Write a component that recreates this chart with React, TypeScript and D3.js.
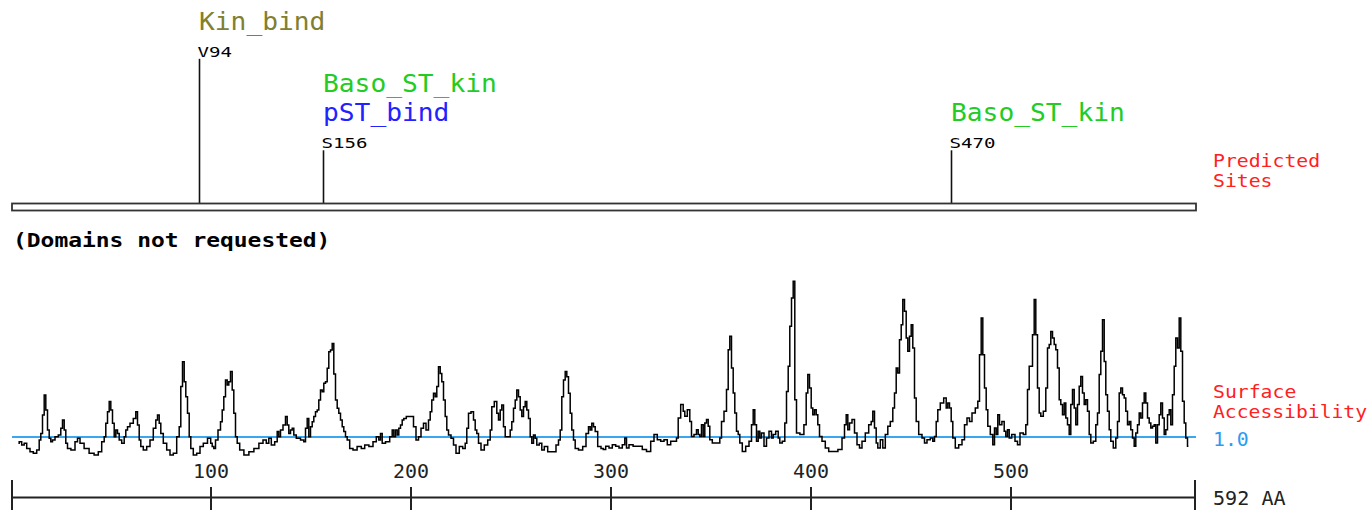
import React from "react";
import * as d3 from "d3";

const proteinLength = 592;
const axisTicks = [100, 200, 300, 400, 500];
const siteResidues = [94, 156, 470];
const siteLabels = ["V94", "S156", "S470"];
const siteMotifs = [["Kin_bind"], ["Baso_ST_kin", "pST_bind"], ["Baso_ST_kin"]];
const motifColors: Record<string, string> = {
  Kin_bind: "#808030",
  Baso_ST_kin: "#22cc22",
  pST_bind: "#2222ff",
};
const baselineValue = 1.0;

// surface accessibility profile: [residue, value]
const accResidues = [
  3.7, 4.5, 6.2, 7, 8.7, 10.3, 12, 13.7, 14.5, 15.3, 16.2, 17, 17.8, 18.7, 19.5, 20.3, 21.2, 22.8, 24.5, 25.3, 26.2, 27, 27.8, 28.7, 31.2, 32.8, 33.7, 35.3, 37.8, 40.3, 42.8, 44.5, 46.2, 47, 47.8, 48.7, 49.5, 50.3, 51.2, 52, 52.8, 53.7, 54.5, 56.2, 57, 57.8, 58.7, 60.3, 62, 62.8, 63.7, 64.5, 65.3, 67, 68.7, 70.3, 72, 72.8, 73.7, 74.5, 75.3, 77, 78.7, 80.3, 82, 83.7, 84.5, 85.3, 86.2, 87, 87.8, 88.7, 89.5, 90.3, 92, 93.7, 95.3, 97, 99.5,
  100.2, 101, 101.8, 102.7, 104.3, 105.2, 106, 106.8, 107.7, 108.5, 109.3, 110.2, 111, 111.8, 112.7, 113.5, 115.2, 117.7, 120.2, 122.7, 125.2, 126.8, 128.5, 129.3, 131, 132.7, 133.5, 134.3, 135.2, 136.8, 137.7, 138.5, 139.3, 140.2, 141, 141.8, 143.5, 146, 146.8, 147.7, 148.5, 149.3, 150.2, 151, 151.8, 152.7, 153.5, 154.3, 155.2, 156, 156.8, 157.7, 158.5, 159.3, 160.2, 161, 161.8, 162.7, 163.5, 164.3, 165.2, 166, 166.8, 167.7, 168.5, 170.2, 171.8, 174.3, 176, 177.7, 180.2, 181.8, 183.5, 184.3, 185.2, 186, 188.5, 190.2, 191, 191.8, 192.7, 193.5, 194.3, 195.2, 196, 196.8, 198.5,
  200.8, 201.7, 203.3, 204.2, 205.8, 206.7, 208.3, 209.2, 210, 210.8, 211.7, 212.5, 213.3, 214.2, 215, 215.8, 216.7, 217.5, 218.3, 219.2, 220.8, 221.7, 223.3, 225, 226.7, 227.5, 228.3, 229.2, 230.8, 231.7, 232.5, 233.3, 234.2, 235.8, 237.5, 239.2, 240, 240.8, 242.5, 243.3, 244.2, 245, 245.8, 246.7, 247.5, 249.2, 250, 250.8, 251.7, 252.5, 253.3, 254.2, 255, 255.8, 256.7, 257.5, 258.3, 259.2, 260, 260.8, 261.7, 262.5, 263.3, 265, 265.8, 267.5, 269.2, 271.7, 273.3, 274.2, 275, 275.8, 276.7, 277.5, 278.3, 279.2, 280, 280.8, 281.7, 282.5, 285, 286.7, 288.3, 289.2, 290, 290.8, 291.7, 292.5, 294.2, 295.8,
  296.5, 298.2, 299.8, 301.5, 303.2, 304.8, 306.5, 307.3, 308.2, 309.8, 312.3, 314.8, 316.5, 319, 320.7, 322.3, 324, 325.7, 327.3, 329, 330.7, 332.3, 333.2, 334, 335.7, 336.5, 337.3, 339, 339.8, 340.7, 342.3, 343.2, 344, 344.8, 345.7, 346.5, 347.3, 348.2, 349, 349.8, 351.5, 354, 354.8, 355.7, 357.3, 358.2, 359, 359.8, 360.7, 361.5, 362.3, 363.2, 364, 364.8, 366.5, 368.2, 369.8, 370.7, 371.5, 372.3, 373.2, 374, 374.8, 375.7, 377.3, 378.2, 379.8, 380.7, 381.5, 383.2, 384, 384.8, 386.5, 387.3, 388.2, 389, 389.8, 390.7, 391.5, 392.3, 393.2, 395.7,
  397.2, 398, 398.8, 399.7, 400.5, 401.3, 402.2, 403, 403.8, 404.7, 406.3, 408, 409.7, 412.2, 414.7, 416.3, 417.2, 418, 418.8, 419.7, 421.3, 422.2, 423.8, 424.7, 426.3, 428, 429.7, 430.5, 431.3, 432.2, 433, 433.8, 435.5, 436.3, 438, 438.8, 440.5, 441.3, 442.2, 443, 443.8, 444.7, 445.5, 446.3, 447.2, 448, 448.8, 449.7, 450.5, 451.3, 452.2, 453, 454.7, 456.3, 457.2, 458.8, 460.5, 461.3, 462.2, 463, 463.8, 465.5, 467.2, 468, 468.8, 469.7, 470.5, 471.3, 473, 474.7, 476.3, 477.2, 478.8, 479.7, 481.3, 483, 483.8, 484.7, 485.5, 486.3, 487.2, 488, 488.8, 490.5, 491.3, 492.2, 493, 493.8,
  494.7, 496.2, 497, 497.8, 498.7, 499.5, 501.2, 502.8, 503.7, 505.3, 507, 507.8, 508.7, 509.5, 510.3, 511.2, 512, 512.8, 513.7, 514.5, 515.3, 517, 517.8, 518.7, 519.5, 520.3, 521.2, 522, 522.8, 523.7, 524.5, 525.3, 526.2, 527, 527.8, 528.7, 529.5, 530.3, 531.2, 532, 532.8, 533.7, 534.5, 535.3, 536.2, 537, 537.8, 538.7, 539.5, 540.3, 542, 542.8, 543.7, 544.5, 545.3, 546.2, 547, 547.8, 548.7, 549.5, 550.3, 552, 552.8, 553.7, 554.5, 555.3, 556.2, 557, 557.8, 558.7, 559.5, 560.3, 561.2, 562, 562.8, 563.7, 564.5, 565.3, 566.2, 567, 567.8, 568.7, 569.5, 570.3, 571.2, 572, 572.8, 573.7, 574.5, 575.3, 576.2, 577, 577.8, 578.7, 579.5, 580.3, 581.2, 582, 582.8, 583.7, 584.5, 585.3, 586.2, 587, 587.8, 588.7,
];
const accValues = [
  0.79, 0.84, 0.73, 0.79, 0.62, 0.51, 0.46, 0.57, 0.9, 1.12, 1.73, 2.4, 1.9, 1.23, 0.96, 0.84, 0.9, 1.01, 1.07, 1.29, 1.57, 1.23, 0.79, 0.62, 0.57, 0.84, 0.96, 0.79, 0.62, 0.46, 0.4, 0.51, 0.84, 1.01, 1.46, 1.84, 2.18, 1.9, 1.46, 1.01, 1.23, 1.12, 0.9, 0.79, 1.01, 1.23, 1.34, 1.46, 1.62, 1.84, 1.4, 0.9, 0.68, 0.57, 0.68, 0.9, 1.29, 1.57, 1.73, 1.46, 1.12, 0.79, 0.57, 0.4, 0.46, 1.01, 1.34, 2.68, 3.51, 2.84, 2.34, 1.79, 1.01, 0.62, 0.4, 0.46, 0.68, 0.79, 0.96,
  0.79, 0.68, 0.62, 0.9, 1.23, 1.51, 1.9, 2.34, 2.9, 2.73, 2.84, 3.18, 2.57, 1.79, 1.01, 0.79, 0.57, 0.4, 0.51, 0.62, 0.79, 0.9, 0.79, 0.96, 0.73, 0.84, 1.18, 1.01, 1.23, 1.4, 1.68, 1.4, 1.12, 1.23, 1.29, 1.07, 0.96, 0.9, 0.84, 1.29, 1.62, 1.01, 1.34, 1.51, 1.68, 1.84, 1.9, 2.23, 2.57, 2.51, 2.79, 2.84, 3.29, 3.84, 3.9, 4.12, 3.1, 2.23, 1.96, 1.79, 1.57, 1.34, 1.18, 1.01, 0.9, 0.62, 0.57, 0.68, 0.62, 0.73, 0.68, 0.84, 1.01, 0.9, 1.12, 0.79, 0.84, 1.01, 1.23, 1.01, 1.23, 1.07, 1.29, 1.4, 1.57, 1.62, 1.68,
  1.68, 1.34, 0.9, 1.01, 1.29, 1.46, 1.23, 1.57, 1.84, 2.23, 2.46, 2.34, 2.68, 3.34, 3.12, 2.84, 2.23, 1.68, 1.23, 1.07, 0.96, 0.73, 0.46, 0.68, 0.62, 0.79, 1.29, 1.79, 1.84, 1.57, 1.23, 1.12, 0.79, 0.57, 0.73, 0.9, 1.23, 2.01, 2.18, 1.79, 1.57, 1.9, 2.07, 1.34, 1.01, 1.01, 1.23, 1.51, 1.96, 2.23, 2.57, 2.34, 1.9, 1.68, 2.01, 2.18, 1.9, 1.62, 1.01, 0.79, 1.07, 0.96, 0.73, 0.79, 0.57, 0.68, 0.51, 0.51, 0.73, 0.9, 1.23, 2.34, 2.9, 3.18, 3.01, 2.46, 1.79, 1.23, 0.9, 0.62, 0.57, 0.68, 1.12, 1.34, 1.23, 1.46, 1.34, 1.18, 0.68, 0.62,
  0.58, 0.69, 0.63, 0.74, 0.69, 0.63, 0.74, 0.97, 0.63, 0.74, 0.69, 0.69, 0.58, 0.52, 0.86, 1.08, 0.91, 0.86, 0.91, 0.74, 0.86, 0.86, 0.97, 1.63, 2.08, 1.86, 1.69, 1.91, 1.52, 1.02, 1.08, 1.24, 1.08, 1.02, 1.41, 1.02, 1.47, 1.58, 1.36, 0.91, 0.8, 0.8, 0.97, 1.52, 1.86, 2.58, 3.91, 4.36, 3.3, 2.47, 1.8, 1.19, 1.08, 0.8, 0.52, 0.69, 0.86, 1.41, 1.91, 1.41, 0.86, 1.19, 0.97, 1.13, 0.69, 0.97, 1.19, 0.97, 1.08, 1.19, 0.97, 0.8, 0.86, 1.47, 2.52, 3.36, 4.69, 5.63, 6.19, 2.24, 1.13, 1.08,
  1.41, 2.47, 3.08, 2.63, 1.97, 1.74, 1.91, 1.74, 1.41, 1.02, 0.86, 0.63, 0.52, 0.52, 0.58, 0.97, 1.41, 1.74, 1.24, 1.47, 1.58, 1.13, 0.74, 0.63, 0.86, 1.13, 1.41, 1.52, 1.86, 1.3, 0.8, 0.63, 0.91, 0.63, 1.08, 1.36, 1.52, 1.97, 2.47, 3.3, 3.13, 4.24, 4.74, 5.58, 5.19, 4.3, 3.86, 4.36, 4.74, 3.97, 2.3, 1.52, 1.08, 0.97, 0.8, 0.91, 0.97, 0.86, 1.02, 1.52, 1.91, 2.13, 2.3, 1.97, 2.13, 1.97, 1.52, 0.97, 0.63, 0.74, 0.91, 1.41, 1.63, 1.52, 1.8, 1.97, 2.19, 3.74, 4.97, 3.74, 2.63, 1.91, 1.36, 1.08, 0.74, 1.3, 1.08, 1.74,
  1.41, 1.52, 1.19, 1.02, 1.24, 0.97, 1.08, 0.86, 0.74, 1.13, 1.08, 1.41, 2.58, 3.36, 3.36, 4.41, 5.58, 4.41, 2.63, 1.8, 1.69, 1.86, 2.63, 3.97, 4.08, 4.52, 4.3, 4.08, 3.91, 3.3, 2.24, 2.08, 1.74, 2.13, 1.63, 1.41, 1.08, 2.08, 2.58, 1.97, 1.41, 2.08, 2.69, 3.02, 2.47, 2.08, 2.24, 1.86, 1.08, 0.8, 0.86, 1.41, 1.8, 3.08, 3.86, 4.91, 3.52, 2.41, 1.86, 1.24, 0.86, 0.63, 0.97, 1.52, 2.47, 2.63, 2.41, 2.3, 1.86, 1.41, 1.52, 1.24, 0.97, 0.69, 1.13, 1.41, 1.8, 1.63, 2.13, 2.47, 2.13, 1.63, 1.47, 1.3, 1.36, 1.41, 0.8, 1.41, 1.74, 2.13, 1.63, 1.08, 1.24, 1.74, 1.91, 1.41, 2.41, 3.36, 4.3, 3.97, 4.97, 3.86, 2.19, 1.47, 0.97, 0.69,
];

const W = 1371;
const H = 510;
const MONO = "'DejaVu Sans Mono', 'Liberation Mono', monospace";

const x = d3.scaleLinear().domain([0, proteinLength]).range([11, 1195]);
const y = d3.scaleLinear().domain([1, 6]).range([437, 287]);

const MOTIF_CHAR = 15.8;
const LINE_GAP = 29.5;

function T(props: {
  x: number;
  y: number;
  text: string;
  size: number;
  fill: string;
  charW: number;
  bold?: boolean;
  anchor?: string;
}) {
  const len = props.text.length * props.charW;
  return (
    <text
      x={props.x}
      y={props.y}
      fontFamily={MONO}
      fontSize={props.size}
      fontWeight={props.bold ? "bold" : "normal"}
      fill={props.fill}
      textAnchor={props.anchor || "start"}
      textLength={len}
      lengthAdjust="spacingAndGlyphs"
    >
      {props.text}
    </text>
  );
}

export default function App() {
  const pts: [number, number][] = accResidues.map((r, i) => [r, accValues[i]]);
  const line = d3
    .line<[number, number]>()
    .x((d) => x(d[0]))
    .y((d) => y(d[1]))
    .curve(d3.curveStep);
  const pathD = line(pts) || "";
  const siteLineBottom = 203;
  const rightLabelX = 1213;

  // stagger: a site whose label block would run into the next site is raised above it
  const raise: number[] = siteResidues.map(() => 0);
  for (let i = siteResidues.length - 2; i >= 0; i--) {
    const widest = Math.max(...siteMotifs[i].map((m) => m.length)) * MOTIF_CHAR;
    if (x(siteResidues[i]) + widest > x(siteResidues[i + 1])) {
      raise[i] = raise[i + 1] + (siteMotifs[i + 1].length + 1) * 30.5;
    }
  }

  return (
    <svg
      width={W}
      height={H}
      style={{ position: "absolute", left: 0, top: 0, background: "#fff" }}
    >
      {siteResidues.map((r, i) => {
        const motifs = siteMotifs[i];
        const sx = Math.round(x(r)) + 0.5;
        const labelBase = 148.3 - raise[i];
        const firstMotif = labelBase - 27 - (motifs.length - 1) * LINE_GAP;
        return (
          <g key={i}>
            {motifs.map((m, j) => (
              <T
                key={m}
                x={sx - 0.5}
                y={firstMotif + j * LINE_GAP}
                text={m}
                size={25}
                fill={motifColors[m]}
                charW={MOTIF_CHAR}
              />
            ))}
            <T x={sx - 2} y={labelBase} text={siteLabels[i]} size={14.5} fill="#000" charW={11.5} />
            <line
              x1={sx}
              x2={sx}
              y1={labelBase + 2}
              y2={siteLineBottom}
              stroke="#111"
              strokeWidth={1.6}
            />
          </g>
        );
      })}
      <rect
        x={x(0.5)}
        y={203.5}
        width={x(proteinLength) - x(0.5) + 1}
        height={7}
        fill="#fff"
        stroke="#333"
        strokeWidth={1.8}
      />
      <T x={rightLabelX} y={167.3} text="Predicted" size={18} fill="#ff2020" charW={11.9} />
      <T x={rightLabelX} y={187.3} text="Sites" size={18} fill="#ff2020" charW={11.9} />

      <T x={13} y={246.7} text="(Domains not requested)" size={20} fill="#000" charW={13.8} bold />

      <line
        x1={x(0.5)}
        x2={x(proteinLength) + 1}
        y1={y(baselineValue)}
        y2={y(baselineValue)}
        stroke="#3aa6f0"
        strokeWidth={2}
      />
      <path d={pathD} fill="none" stroke="#000" strokeWidth={1.5} />
      <T x={rightLabelX} y={398.3} text="Surface" size={18} fill="#ff2020" charW={11.9} />
      <T x={rightLabelX} y={418.3} text="Accessibility" size={18} fill="#ff2020" charW={11.85} />
      <T x={rightLabelX} y={445.5} text={baselineValue.toFixed(1)} size={20} fill="#2a9cf2" charW={11.9} />

      <line x1={x(0.5)} x2={x(proteinLength)} y1={497.5} y2={497.5} stroke="#222" strokeWidth={2} />
      <line x1={x(0.5)} x2={x(0.5)} y1={480} y2={510} stroke="#222" strokeWidth={2} />
      <line x1={x(proteinLength)} x2={x(proteinLength)} y1={480} y2={510} stroke="#222" strokeWidth={2} />
      {axisTicks.map((t) => (
        <g key={t}>
          <line x1={x(t)} x2={x(t)} y1={487} y2={510} stroke="#222" strokeWidth={2} />
          <T x={x(t)} y={478.3} text={String(t)} size={20} fill="#222" charW={12} anchor="middle" />
        </g>
      ))}
      <T x={rightLabelX} y={505} text={`${proteinLength} AA`} size={20} fill="#222" charW={12.1} />
    </svg>
  );
}
